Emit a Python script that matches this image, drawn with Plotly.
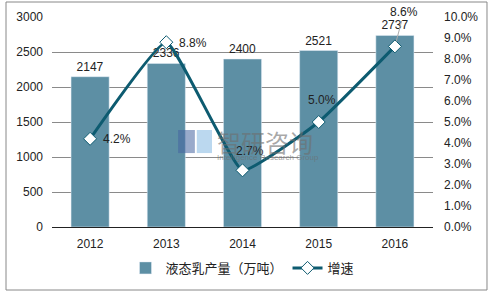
import plotly.graph_objects as go

years = ["2012", "2013", "2014", "2015", "2016"]
output = [2147, 2336, 2400, 2521, 2737]
growth = [4.2, 8.8, 2.7, 5.0, 8.6]
growth_labels = ["4.2%", "8.8%", "2.7%", "5.0%", "8.6%"]
left_ticks = [0, 500, 1000, 1500, 2000, 2500, 3000]
right_ticks = [0, 1, 2, 3, 4, 5, 6, 7, 8, 9, 10]

BAR = "#5d8fa4"
LINE = "#0d5b70"
FONT = "Liberation Sans, Arial, Noto Sans CJK SC, sans-serif"

pos = list(range(len(years)))

fig = go.Figure()
fig.add_trace(go.Bar(
    x=pos, y=output, name="液态乳产量（万吨）", marker_color=BAR,
    width=0.5, text=[str(v) for v in output], textposition="outside",
    textfont=dict(size=12, color="#222"), cliponaxis=False,
))
fig.add_trace(go.Scatter(
    x=pos, y=growth, name="增速", yaxis="y2", mode="lines+markers",
    line=dict(color=LINE, width=3, shape="spline", smoothing=0.35),
    marker=dict(symbol="diamond", size=10, color="white", line=dict(color=LINE, width=1)),
    cliponaxis=False,
))

# growth labels (dx, dy in pixels; dy negative = above)
offsets = [(27, 0), (27, 1), (7, -19), (3, -22), (9, -34)]
for i, (x, y, t, (dx, dy)) in enumerate(zip(pos, growth, growth_labels, offsets)):
    if i == 4:
        fig.add_annotation(x=x, y=y, xref="x", yref="y2", text=t, showarrow=True,
                           ax=dx, ay=dy, arrowhead=0, arrowwidth=1, arrowcolor="#aaa",
                           standoff=5, font=dict(size=12, color="#222"))
    else:
        fig.add_annotation(x=x, y=y, xref="x", yref="y2", text=t, showarrow=False,
                           xshift=dx, yshift=-dy, font=dict(size=12, color="#222"))

# watermark
fig.add_annotation(xref="paper", yref="paper", x=0.428, y=0.407, xanchor="left", yanchor="middle",
                   text="智研咨询", showarrow=False,
                   font=dict(size=24, color="rgba(110,110,110,0.6)", family="Noto Sans CJK SC"))
fig.add_annotation(xref="paper", yref="paper", x=0.428, y=0.333, xanchor="left", yanchor="middle",
                   text="Intelligence Research Group",
                   showarrow=False, font=dict(size=8, color="rgba(110,110,110,0.65)", family=FONT))

fig.update_layout(
    width=492, height=294,
    margin=dict(l=52, r=59, t=17, b=67, autoexpand=False),
    paper_bgcolor="white", plot_bgcolor="white",
    font=dict(family=FONT, size=12, color="#222"),
    xaxis=dict(range=[-0.5, 4.5], tickvals=pos, ticktext=years, showgrid=False,
               showline=True, linecolor="#222", linewidth=1, ticks="", zeroline=False,
               tickfont=dict(size=12), ticklabelstandoff=6),
    yaxis=dict(range=[0, 3000], tickvals=left_ticks, showgrid=True, gridcolor="#8a8a8a",
               gridwidth=1, zeroline=False, showline=False, ticks="", tickfont=dict(size=12),
               ticklabelstandoff=8),
    yaxis2=dict(range=[0, 10], tickvals=right_ticks, ticktext=[f"{v:.1f}%" for v in right_ticks],
                overlaying="y", side="right", showgrid=False, zeroline=False, ticks="",
                tickfont=dict(size=12), ticklabelstandoff=10),
    showlegend=True,
    legend=dict(orientation="h", x=0.5, xanchor="center", y=-0.195, yanchor="middle",
                font=dict(size=13, family="Noto Sans CJK SC, sans-serif")),
    shapes=[
        dict(type="rect", xref="paper", yref="paper", x0=0.331, x1=0.375, y0=0.352, y1=0.462,
             fillcolor="rgba(70,100,160,0.55)", line=dict(width=0)),
        dict(type="rect", xref="paper", yref="paper", x0=0.38, x1=0.42, y0=0.352, y1=0.462,
             fillcolor="rgba(150,195,230,0.65)", line=dict(width=0)),
        dict(type="rect", xref="paper", yref="paper", x0=-0.1207, x1=1.1417,
             y0=-0.3, y1=1.0714, fillcolor="rgba(0,0,0,0)", line=dict(color="#888", width=1),
             layer="below"),
    ],
)

fig.write_html("out.html")
